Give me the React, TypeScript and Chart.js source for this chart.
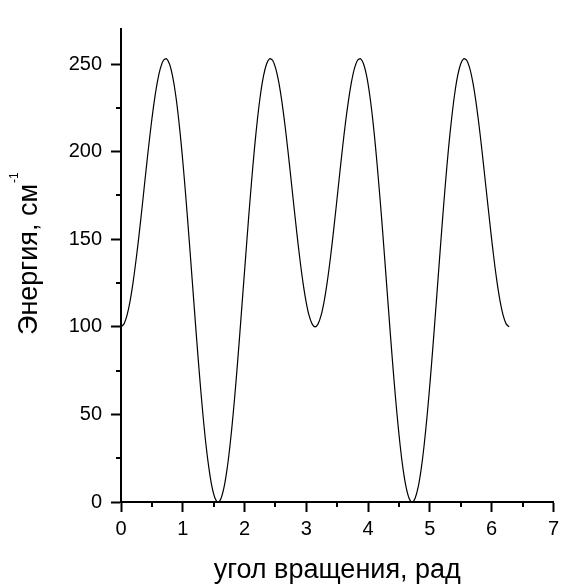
import React, { useEffect, useRef } from "react";
import { Chart, registerables } from "chart.js";

Chart.register(...registerables);

// rotation angle, rad
const ANGLE: number[] = [
  0.000, 0.049, 0.098, 0.147, 0.196, 0.245, 0.295, 0.344, 0.393, 0.442, 0.491, 0.540, 0.589, 0.638, 0.687, 0.736,
  0.785, 0.834, 0.884, 0.933, 0.982, 1.031, 1.080, 1.129, 1.178, 1.227, 1.276, 1.325, 1.374, 1.424, 1.473, 1.522,
  1.571, 1.620, 1.669, 1.718, 1.767, 1.816, 1.865, 1.914, 1.963, 2.013, 2.062, 2.111, 2.160, 2.209, 2.258, 2.307,
  2.356, 2.405, 2.454, 2.503, 2.553, 2.602, 2.651, 2.700, 2.749, 2.798, 2.847, 2.896, 2.945, 2.994, 3.043, 3.093,
  3.142, 3.190, 3.240, 3.289, 3.338, 3.387, 3.436, 3.485, 3.534, 3.583, 3.632, 3.682, 3.731, 3.780, 3.829, 3.878,
  3.927, 3.976, 4.025, 4.074, 4.123, 4.172, 4.222, 4.271, 4.320, 4.369, 4.418, 4.467, 4.516, 4.565, 4.614, 4.663,
  4.712, 4.761, 4.811, 4.860, 4.909, 4.958, 5.007, 5.056, 5.105, 5.154, 5.203, 5.252, 5.301, 5.351, 5.400, 5.449,
  5.498, 5.547, 5.596, 5.645, 5.694, 5.743, 5.792, 5.841, 5.890, 5.940, 5.989, 6.038, 6.087, 6.136, 6.185, 6.234,
  6.283,
];

// energy, cm^-1
const ENERGY: number[] = [
  100, 101.68, 106.65, 114.7, 125.48, 138.54, 153.31, 169.14, 185.36, 201.23, 216.05, 229.13, 239.85, 247.66, 252.14, 252.98,
  250, 243.18, 232.63, 218.63, 201.58, 181.99, 160.49, 137.79, 114.64, 91.84, 70.16, 50.35, 33.1, 19.01, 8.57, 2.16,
  0, 2.16, 8.57, 19.01, 33.1, 50.35, 70.16, 91.84, 114.64, 137.79, 160.49, 181.99, 201.58, 218.63, 232.63, 243.18,
  250, 252.98, 252.14, 247.66, 239.85, 229.13, 216.05, 201.23, 185.36, 169.14, 153.31, 138.54, 125.48, 114.7, 106.65, 101.68,
  100, 101.68, 106.65, 114.7, 125.48, 138.54, 153.31, 169.14, 185.36, 201.23, 216.05, 229.13, 239.85, 247.66, 252.14, 252.98,
  250, 243.18, 232.63, 218.63, 201.58, 181.99, 160.49, 137.79, 114.64, 91.84, 70.16, 50.35, 33.1, 19.01, 8.57, 2.16,
  0, 2.16, 8.57, 19.01, 33.1, 50.35, 70.16, 91.84, 114.64, 137.79, 160.49, 181.99, 201.58, 218.63, 232.63, 243.18,
  250, 252.98, 252.14, 247.66, 239.85, 229.13, 216.05, 201.23, 185.36, 169.14, 153.31, 138.54, 125.48, 114.7, 106.65, 101.68,
  100,
];

const X_MINOR: number[] = [0.5, 1.5, 2.5, 3.5, 4.5, 5.5, 6.5];
const Y_MINOR: number[] = [25, 75, 125, 175, 225];

const X_TITLE = "угол вращения, рад";
const Y_TITLE = "Энергия, см";
const Y_TITLE_SUP = "-1";

const FONT = '"Liberation Sans", Arial, sans-serif';

const decorPlugin = {
  id: "decor",
  afterDraw(chart: any) {
    const { ctx, chartArea, scales } = chart;
    const xs = scales.x;
    const ys = scales.y;
    ctx.save();
    ctx.strokeStyle = "#000";
    ctx.lineWidth = 2;
    ctx.beginPath();
    for (const v of X_MINOR) {
      const px = Math.round(xs.getPixelForValue(v));
      ctx.moveTo(px, chartArea.bottom);
      ctx.lineTo(px, chartArea.bottom + 5);
    }
    for (const v of Y_MINOR) {
      const py = Math.round(ys.getPixelForValue(v));
      ctx.moveTo(chartArea.left, py);
      ctx.lineTo(chartArea.left - 5, py);
    }
    ctx.stroke();

    // y title with superscript
    ctx.fillStyle = "#000";
    ctx.translate(37, 335);
    ctx.rotate(-Math.PI / 2);
    ctx.textAlign = "left";
    ctx.textBaseline = "alphabetic";
    ctx.font = `27px ${FONT}`;
    ctx.fillText(Y_TITLE, 0, 0);
    const w = ctx.measureText(Y_TITLE).width;
    ctx.font = `12px ${FONT}`;
    ctx.fillText(Y_TITLE_SUP, w + 1, -19);
    ctx.restore();
  },
};

export default function App() {
  const ref = useRef<HTMLCanvasElement | null>(null);

  useEffect(() => {
    if (!ref.current) return;
    const chart = new Chart(ref.current, {
      type: "line",
      data: {
        datasets: [
          {
            data: ANGLE.map((a, i) => ({ x: a, y: ENERGY[i] })),
            borderColor: "#000",
            borderWidth: 1.2,
            pointRadius: 0,
            tension: 0.3,
            fill: false,
          },
        ],
      },
      options: {
        animation: false,
        responsive: false,
        events: [],
        layout: { padding: { top: 29, right: 8, left: 0, bottom: 0 } },
        plugins: {
          legend: { display: false },
          tooltip: { enabled: false },
          title: { display: false },
        },
        scales: {
          x: {
            type: "linear",
            min: 0,
            max: 7,
            afterFit: (s: any) => {
              s.height = 82;
            },
            ticks: {
              stepSize: 1,
              padding: 5,
              color: "#000",
              font: { family: FONT, size: 20 },
              maxRotation: 0,
            },
            grid: {
              display: true,
              drawOnChartArea: false,
              drawTicks: true,
              tickLength: 10,
              tickWidth: 2,
              tickColor: "#000",
            },
            border: { display: true, color: "#000", width: 2 },
            title: {
              display: true,
              text: X_TITLE,
              color: "#000",
              font: { family: FONT, size: 27 },
              padding: { top: 0, bottom: -3 },
            },
          },
          y: {
            type: "linear",
            min: 0,
            max: 270,
            afterFit: (s: any) => {
              s.width = 121;
            },
            ticks: {
              stepSize: 50,
              includeBounds: false,
              padding: 9,
              color: "#000",
              font: { family: FONT, size: 20 },
            },
            grid: {
              display: true,
              drawOnChartArea: false,
              drawTicks: true,
              tickLength: 10,
              tickWidth: 2,
              tickColor: "#000",
            },
            border: { display: true, color: "#000", width: 2 },
          },
        },
      },
      plugins: [decorPlugin],
    });
    return () => chart.destroy();
  }, []);

  return (
    <div style={{ position: "absolute", left: 0, top: 0, width: 564, height: 584, background: "#fff" }}>
      <canvas ref={ref} width={564} height={584} style={{ display: "block" }} />
    </div>
  );
}
